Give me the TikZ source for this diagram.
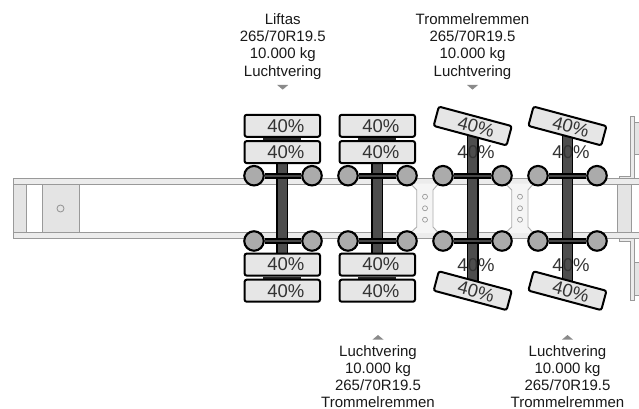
\documentclass[tikz,border=0pt]{standalone}
\usepackage{fontspec}
\setmainfont{Liberation Sans}
\pgfdeclarelayer{chassis}
\pgfdeclarelayer{axle}
\pgfsetlayers{chassis,axle,main}
\definecolor{rail}{HTML}{999999}
\definecolor{railfill}{HTML}{ECECEC}
\definecolor{boxfill}{HTML}{E4E4E4}
\definecolor{tyrefill}{HTML}{E6E6E6}
\definecolor{hubfill}{HTML}{ABABAB}
\definecolor{barfill}{HTML}{4D4D4D}
\definecolor{pctink}{HTML}{333333}
\definecolor{mark}{HTML}{8A8A8A}
\newcommand{\pct}{\kern7pt 40\%}
\tikzset{
  tyre/.style={draw=black,line width=2pt,fill=tyrefill,rounded corners=2.2pt,minimum width=75.5pt,minimum height=22pt,inner sep=0pt,text=pctink,font=\fontsize{18.5}{20}\selectfont},
  angled/.style={tyre,rotate=-15,minimum height=20pt},
  bare/.style={inner sep=0pt,text=pctink,font=\fontsize{18.5}{20}\selectfont},
  hub/.style={circle,draw=black,line width=2.1pt,fill=hubfill,minimum size=19.5pt,inner sep=0pt},
  crossbar/.style={line width=2.2pt,draw=black,double=black!72,double distance=2pt},
  spine/.style={line width=1.6pt,draw=black,double=barfill,double distance=8.6pt},
  twinlink/.style={draw=black!85,line width=38pt},
  railbox/.style={draw=rail,line width=1pt,fill=railfill},
  framebox/.style={draw=rail,line width=1pt,fill=boxfill},
  plateedge/.style={draw=rail!80!white,line width=.9pt},
  hole/.style={circle,draw=rail,line width=.7pt,minimum size=5pt,inner sep=0pt},
  bigHole/.style={circle,draw=rail,line width=.9pt,minimum size=7pt,inner sep=0pt},
  spec/.style={align=center,inner sep=0pt,text=black!90,font=\fontsize{15}{17.3}\selectfont},
  pointer/.style={fill=mark,draw=none}
}
\begin{document}
\begin{tikzpicture}[x=1pt,y=-1pt]
\useasboundingbox (0,0) rectangle (639,409);
\begin{pgfonlayer}{chassis}
  \fill[white] (0,0) rectangle (639,409);
  % rails
  \draw[railbox] (13.4,178.5) rectangle (645,184.3);
  \draw[railbox] (13.4,232.3) rectangle (645,238.2);
  % plates between the axles
  \foreach \a/\b/\c/\d in {411/416.7/433/438, 506/511.7/528/533}{
    \fill[black!4] (\a,183.6) -- (\b,190) -- (\b,227) -- (\a,233) -- (\d,233) -- (\c,227) -- (\c,190) -- (\d,183.6) -- cycle;
    \draw[plateedge] (\a,184.3) -- (\b,190) -- (\b,227) -- (\a,232.3);
    \draw[plateedge] (\d,184.3) -- (\c,190) -- (\c,227) -- (\d,232.3);
  }
  % boxes
  \draw[framebox] (13.4,184.3) rectangle (26,232.3);
  \draw[framebox] (42.6,184.3) rectangle (79,232.3);
  \draw[framebox] (617.5,184.3) rectangle (631.8,232.3);
  % rear end
  \draw[railbox] (619.5,178.5) -- (619.5,176) -- (630,176) -- (630,116.8) -- (634,116.8) -- (634,178.5) -- cycle;
  \draw[railbox] (619.5,238.2) -- (619.5,241) -- (630,241) -- (630,300.5) -- (634,300.5) -- (634,238.2) -- cycle;
  \draw[framebox] (634,122) rectangle (645,154);
  \draw[framebox] (634,262.6) rectangle (645,295);
  \node[bigHole] (pin) at (60.5,208.5) {};
  \foreach \n/\x/\y in {p1/425/196.7,p2/425/208.3,p3/425/219.7,q1/520/196.7,q2/520/208.3,q3/520/219.7}{
    \node[hole] (\n) at (\x,\y) {};
  }
\end{pgfonlayer}

% axle 1
\node[tyre] (a1) at (282.3,125.8) {\pct};
\node[tyre] (a2) at (282.3,152.1) {\pct};
\node[tyre] (a3) at (282.3,264.6) {\pct};
\node[tyre] (a4) at (282.3,290.7) {\pct};
\node[hub] (a5) at (254,175.7) {};
\node[hub] (a6) at (312,175.7) {};
\node[hub] (a7) at (254,241) {};
\node[hub] (a8) at (312,241) {};
% axle 2
\node[tyre] (b1) at (377.3,125.8) {\pct};
\node[tyre] (b2) at (377.3,152.1) {\pct};
\node[tyre] (b3) at (377.3,264.6) {\pct};
\node[tyre] (b4) at (377.3,290.7) {\pct};
\node[hub] (b5) at (348,175.7) {};
\node[hub] (b6) at (407,175.7) {};
\node[hub] (b7) at (348,241) {};
\node[hub] (b8) at (407,241) {};
% axle 3
\node[angled] (c1) at (472.7,126) {\pct};
\node[angled] (c4) at (472.7,290.7) {\pct};
\node[hub] (c5) at (443,175.7) {};
\node[hub] (c6) at (502,175.7) {};
\node[hub] (c7) at (443,241) {};
\node[hub] (c8) at (502,241) {};
% axle 4
\node[angled] (d1) at (567.4,126) {\pct};
\node[angled] (d4) at (567.4,290.7) {\pct};
\node[hub] (d5) at (538,175.7) {};
\node[hub] (d6) at (597,175.7) {};
\node[hub] (d7) at (538,241) {};
\node[hub] (d8) at (597,241) {};
% load figures of the steered axles
\node[bare] (c2) at (476,152.4) {40\%};
\node[bare] (c3) at (476,265) {40\%};
\node[bare] (d2) at (571,152.4) {40\%};
\node[bare] (d3) at (571,265) {40\%};

\begin{pgfonlayer}{axle}
  \draw[twinlink] (a1.south) -- (a2.north);
  \draw[twinlink] (a3.south) -- (a4.north);
  \draw[twinlink] (b1.south) -- (b2.north);
  \draw[twinlink] (b3.south) -- (b4.north);
  \draw[spine] (a2.south) -- (a3.north);
  \draw[spine] (b2.south) -- (b3.north);
  \draw[spine] (c1.center) -- (c4.center);
  \draw[spine] (d1.center) -- (d4.center);
  \foreach \k in {a,b,c,d}{
    \draw[crossbar] (\k5) -- (\k6);
    \draw[crossbar] (\k7) -- (\k8);
  }
\end{pgfonlayer}

% labels
\node[spec,anchor=north] (t1) at (282.7,13.2) {Liftas\\265/70R19.5\\10.000 kg\\Luchtvering};
\node[spec,anchor=north] (t2) at (472.5,13.2) {Trommelremmen\\265/70R19.5\\10.000 kg\\Luchtvering};
\node[spec,anchor=north] (t3) at (378,345) {Luchtvering\\10.000 kg\\265/70R19.5\\Trommelremmen};
\node[spec,anchor=north] (t4) at (567.5,345) {Luchtvering\\10.000 kg\\265/70R19.5\\Trommelremmen};
\fill[pointer] (277.2,85) -- (288.2,85) -- (282.7,89.6) -- cycle;
\fill[pointer] (467,85) -- (478,85) -- (472.5,89.6) -- cycle;
\fill[pointer] (372.5,339.6) -- (383.5,339.6) -- (378,335) -- cycle;
\fill[pointer] (562,339.6) -- (573,339.6) -- (567.5,335) -- cycle;
\end{tikzpicture}
\end{document}
